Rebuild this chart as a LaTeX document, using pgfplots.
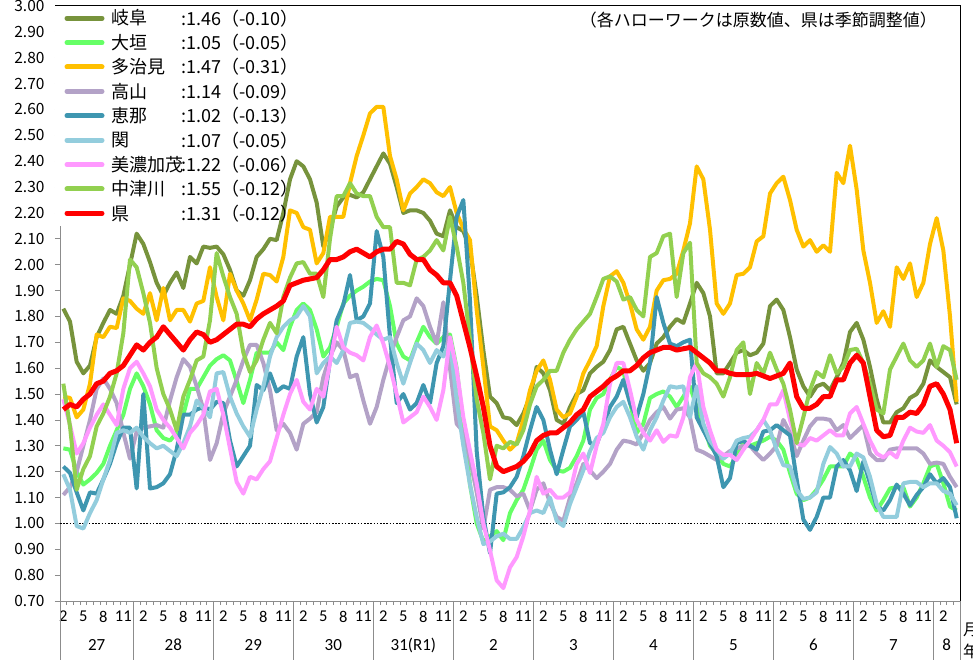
\documentclass[border=0pt]{standalone}
\usepackage{fontspec}
\setmainfont{Noto Sans CJK JP}
\newfontfamily\carlito{Carlito}
\usepackage{pgfplots}
\usepackage{pgfplotstable}
\pgfplotsset{compat=1.18}
\definecolor{cG}{RGB}{119,147,60}
\definecolor{cO}{RGB}{102,255,102}
\definecolor{cT}{RGB}{255,192,0}
\definecolor{cK}{RGB}{179,162,199}
\definecolor{cE}{RGB}{62,150,176}
\definecolor{cS}{RGB}{147,205,221}
\definecolor{cM}{RGB}{255,153,255}
\definecolor{cN}{RGB}{146,208,80}
\definecolor{cR}{RGB}{255,0,0}
\pgfplotstableread{
i G O T K E S M N R
0 1.83 1.29 1.49 1.11 1.22 1.19 1.48 1.54 1.44
1 1.78 1.285 1.485 1.14 1.195 1.13 1.38 1.375 1.46
2 1.625 1.20 1.41 1.20 1.12 0.99 1.27 1.13 1.45
3 1.58 1.15 1.44 1.30 1.05 0.98 1.31 1.21 1.48
4 1.61 1.17 1.54 1.40 1.12 1.04 1.37 1.26 1.50
5 1.72 1.195 1.73 1.52 1.115 1.09 1.42 1.375 1.54
6 1.775 1.23 1.72 1.56 1.17 1.17 1.46 1.425 1.55
7 1.825 1.30 1.76 1.52 1.23 1.245 1.42 1.49 1.58
8 1.81 1.36 1.755 1.465 1.31 1.35 1.38 1.58 1.59
9 1.88 1.42 1.87 1.35 1.37 1.36 1.52 1.735 1.61
10 2.00 1.52 1.86 1.25 1.37 1.35 1.60 2.02 1.65
11 2.12 1.58 1.83 1.355 1.135 1.37 1.625 1.99 1.69
12 2.08 1.53 1.81 1.37 1.50 1.335 1.58 1.89 1.67
13 2.01 1.46 1.89 1.375 1.135 1.31 1.53 1.775 1.70
14 1.93 1.36 1.785 1.38 1.14 1.29 1.44 1.60 1.72
15 1.88 1.33 1.91 1.37 1.155 1.30 1.40 1.50 1.76
16 1.93 1.32 1.785 1.475 1.19 1.28 1.37 1.44 1.73
17 1.97 1.35 1.825 1.565 1.285 1.26 1.33 1.36 1.70
18 1.91 1.42 1.825 1.635 1.42 1.31 1.29 1.49 1.67
19 2.03 1.52 1.78 1.605 1.42 1.375 1.35 1.555 1.71
20 2.005 1.52 1.85 1.53 1.44 1.475 1.38 1.63 1.74
21 2.07 1.565 1.86 1.44 1.45 1.445 1.42 1.645 1.73
22 2.065 1.61 1.99 1.245 1.44 1.41 1.51 1.785 1.70
23 2.07 1.635 1.875 1.31 1.47 1.58 1.52 2.045 1.71
24 2.04 1.65 1.785 1.425 1.465 1.585 1.42 1.955 1.73
25 1.98 1.63 1.965 1.49 1.32 1.49 1.29 1.875 1.75
26 1.90 1.55 1.90 1.555 1.22 1.425 1.16 1.81 1.77
27 1.88 1.465 1.85 1.63 1.26 1.375 1.115 1.66 1.77
28 1.94 1.555 1.785 1.69 1.30 1.335 1.18 1.585 1.76
29 2.03 1.66 1.865 1.69 1.535 1.44 1.17 1.63 1.79
30 2.06 1.66 1.965 1.62 1.515 1.53 1.21 1.71 1.81
31 2.10 1.66 1.96 1.515 1.58 1.645 1.24 1.775 1.825
32 2.095 1.70 1.935 1.36 1.51 1.72 1.33 1.735 1.84
33 2.20 1.67 2.03 1.385 1.53 1.76 1.42 1.875 1.86
34 2.33 1.76 2.21 1.35 1.52 1.785 1.50 1.95 1.92
35 2.40 1.825 2.20 1.285 1.645 1.80 1.555 2.005 1.93
36 2.38 1.85 2.145 1.385 1.72 1.84 1.47 2.01 1.94
37 2.33 1.825 2.135 1.405 1.50 1.80 1.44 1.965 1.945
38 2.24 1.75 2.005 1.43 1.39 1.58 1.52 1.965 1.95
39 2.07 1.645 2.045 1.565 1.45 1.62 1.49 1.875 1.98
40 2.135 1.68 2.185 1.645 1.63 1.645 1.62 2.10 2.02
41 2.225 1.76 2.185 1.70 1.785 1.62 1.76 2.265 2.02
42 2.26 1.85 2.185 1.67 1.845 1.67 1.68 2.265 2.03
43 2.27 1.88 2.315 1.565 1.96 1.775 1.66 2.315 2.05
44 2.26 1.90 2.42 1.575 1.785 1.78 1.65 2.275 2.06
45 2.28 1.915 2.50 1.475 1.80 1.775 1.63 2.265 2.045
46 2.33 1.935 2.585 1.385 1.85 1.755 1.72 2.265 2.03
47 2.38 1.945 2.61 1.45 2.13 1.73 1.765 2.185 2.05
48 2.43 1.94 2.61 1.555 2.03 1.71 1.695 2.145 2.06
49 2.39 1.84 2.42 1.645 1.72 1.72 1.605 2.145 2.06
50 2.30 1.695 2.33 1.72 1.465 1.62 1.50 1.93 2.09
51 2.20 1.645 2.21 1.785 1.50 1.54 1.39 1.93 2.08
52 2.21 1.63 2.275 1.80 1.44 1.62 1.41 1.92 2.04
53 2.21 1.70 2.30 1.87 1.465 1.695 1.43 2.02 2.02
54 2.20 1.76 2.33 1.84 1.535 1.67 1.49 2.03 2.02
55 2.17 1.72 2.315 1.76 1.465 1.62 1.45 2.055 1.98
56 2.12 1.695 2.28 1.695 1.62 1.67 1.40 2.095 1.96
57 2.11 1.72 2.265 1.855 1.685 1.645 1.515 2.055 1.93
58 2.21 1.73 2.30 1.60 1.94 1.70 1.72 2.185 1.93
59 2.145 1.60 2.20 1.385 2.185 1.475 1.595 2.07 1.88
60 2.13 1.38 2.14 1.355 2.25 1.30 1.41 1.93 1.78
61 2.06 1.15 2.095 1.25 1.86 1.15 1.28 1.71 1.68
62 1.88 1.00 1.825 1.12 1.28 1.025 1.155 1.48 1.57
63 1.67 0.93 1.605 0.98 1.025 0.92 1.00 1.35 1.45
64 1.49 0.95 1.375 1.13 0.885 0.93 0.895 1.17 1.30
65 1.465 0.97 1.36 1.14 1.115 0.95 0.78 1.30 1.22
66 1.41 0.935 1.32 1.14 1.12 0.96 0.75 1.29 1.20
67 1.405 1.04 1.285 1.13 1.14 0.94 0.83 1.315 1.21
68 1.38 1.09 1.31 1.105 1.18 0.94 0.87 1.305 1.22
69 1.425 1.13 1.40 1.115 1.26 0.985 0.95 1.36 1.24
70 1.49 1.205 1.515 1.05 1.36 1.04 1.05 1.46 1.27
71 1.605 1.285 1.59 1.13 1.45 1.05 1.18 1.53 1.32
72 1.58 1.32 1.63 1.155 1.40 1.04 1.115 1.555 1.34
73 1.515 1.245 1.555 1.08 1.285 1.10 1.13 1.59 1.35
74 1.40 1.205 1.44 1.025 1.19 1.01 1.10 1.59 1.35
75 1.385 1.20 1.41 1.01 1.285 0.99 1.10 1.66 1.37
76 1.45 1.215 1.425 1.10 1.375 1.075 1.12 1.71 1.39
77 1.50 1.26 1.49 1.155 1.40 1.14 1.23 1.75 1.42
78 1.515 1.32 1.58 1.23 1.43 1.205 1.27 1.78 1.44
79 1.58 1.44 1.63 1.205 1.31 1.28 1.195 1.81 1.49
80 1.605 1.485 1.685 1.175 1.305 1.33 1.30 1.875 1.51
81 1.625 1.50 1.84 1.20 1.375 1.35 1.385 1.945 1.53
82 1.67 1.555 1.955 1.23 1.45 1.41 1.54 1.955 1.555
83 1.75 1.605 1.975 1.285 1.49 1.45 1.62 1.935 1.57
84 1.76 1.59 1.93 1.32 1.555 1.47 1.62 1.865 1.59
85 1.695 1.47 1.85 1.315 1.465 1.41 1.515 1.875 1.59
86 1.63 1.35 1.75 1.305 1.41 1.335 1.40 1.825 1.61
87 1.59 1.385 1.71 1.35 1.50 1.285 1.35 1.80 1.64
88 1.62 1.485 1.76 1.40 1.62 1.36 1.32 2.03 1.66
89 1.695 1.50 1.90 1.43 1.875 1.41 1.36 2.045 1.67
90 1.72 1.51 1.94 1.45 1.775 1.475 1.315 2.11 1.68
91 1.76 1.49 1.945 1.405 1.695 1.53 1.34 2.12 1.68
92 1.79 1.45 1.965 1.44 1.685 1.525 1.335 1.875 1.67
93 1.775 1.49 2.055 1.445 1.70 1.53 1.41 2.045 1.675
94 1.85 1.53 2.16 1.41 1.71 1.41 1.565 2.085 1.68
95 1.93 1.45 2.38 1.285 1.41 1.53 1.62 1.62 1.66
96 1.89 1.38 2.33 1.275 1.36 1.385 1.45 1.58 1.64
97 1.80 1.30 2.135 1.26 1.31 1.32 1.36 1.565 1.62
98 1.58 1.27 1.85 1.245 1.26 1.285 1.285 1.54 1.59
99 1.58 1.23 1.81 1.26 1.14 1.25 1.265 1.49 1.59
100 1.62 1.22 1.85 1.28 1.175 1.27 1.265 1.565 1.58
101 1.66 1.26 1.96 1.29 1.31 1.32 1.245 1.67 1.575
102 1.67 1.31 1.965 1.30 1.32 1.33 1.285 1.70 1.575
103 1.65 1.30 1.99 1.30 1.30 1.335 1.32 1.50 1.575
104 1.66 1.31 2.09 1.27 1.285 1.36 1.36 1.62 1.58
105 1.695 1.32 2.11 1.245 1.355 1.40 1.40 1.58 1.57
106 1.84 1.335 2.275 1.27 1.36 1.36 1.46 1.66 1.56
107 1.865 1.32 2.315 1.30 1.38 1.285 1.46 1.595 1.57
108 1.825 1.285 2.34 1.40 1.36 1.225 1.515 1.54 1.58
109 1.72 1.195 2.25 1.35 1.34 1.22 1.40 1.44 1.62
110 1.595 1.115 2.135 1.26 1.17 1.13 1.31 1.31 1.49
111 1.53 1.09 2.07 1.32 1.015 1.095 1.30 1.41 1.445
112 1.49 1.10 2.095 1.375 0.975 1.10 1.33 1.515 1.445
113 1.53 1.13 2.05 1.405 1.025 1.12 1.32 1.585 1.46
114 1.54 1.17 2.075 1.405 1.10 1.23 1.34 1.565 1.49
115 1.515 1.22 2.05 1.40 1.10 1.295 1.36 1.65 1.49
116 1.565 1.22 2.355 1.36 1.22 1.27 1.34 1.58 1.555
117 1.62 1.22 2.315 1.38 1.245 1.22 1.34 1.605 1.555
118 1.74 1.27 2.46 1.33 1.205 1.22 1.425 1.67 1.62
119 1.775 1.25 2.29 1.355 1.125 1.27 1.45 1.675 1.65
120 1.71 1.18 2.055 1.38 1.24 1.255 1.385 1.62 1.62
121 1.605 1.10 1.93 1.27 1.155 1.18 1.32 1.54 1.49
122 1.48 1.05 1.775 1.245 1.065 1.075 1.27 1.44 1.36
123 1.39 1.09 1.82 1.245 1.05 1.025 1.255 1.425 1.335
124 1.39 1.135 1.76 1.285 1.09 1.025 1.275 1.595 1.34
125 1.43 1.14 1.99 1.29 1.15 1.025 1.255 1.645 1.41
126 1.445 1.14 1.945 1.29 1.115 1.155 1.32 1.695 1.41
127 1.485 1.065 2.005 1.29 1.07 1.16 1.37 1.63 1.43
128 1.50 1.10 1.875 1.29 1.11 1.16 1.355 1.605 1.425
129 1.54 1.155 1.93 1.27 1.14 1.14 1.35 1.63 1.46
130 1.63 1.22 2.08 1.23 1.19 1.155 1.38 1.695 1.53
131 1.605 1.23 2.18 1.235 1.155 1.155 1.32 1.605 1.54
132 1.585 1.155 2.055 1.23 1.175 1.125 1.30 1.685 1.50
133 1.565 1.065 1.80 1.18 1.14 1.115 1.275 1.67 1.44
134 1.46 1.05 1.47 1.14 1.02 1.07 1.22 1.555 1.31
}\datatable
\newcommand{\lgname}[1]{\makebox[75pt][l]{#1}}
\begin{document}
\begin{tikzpicture}[x=1pt,y=1pt]
\useasboundingbox (0,0) rectangle (973,660);
\begin{axis}[
  at={(60pt,59pt)}, anchor=south west,
  scale only axis, width=900pt, height=595pt,
  xmin=-0.5, xmax=134.5, ymin=0.7, ymax=3.0,
  axis x line*=bottom, axis y line*=left,
  axis line style={-, draw=gray!90, line width=0.9pt},
  clip=false,
  tick align=outside,
  major tick length=5pt, minor tick length=4pt,
  ytick={0.7,0.8,0.9,1.0,1.1,1.2,1.3,1.4,1.5,1.6,1.7,1.8,1.9,2.0,2.1,2.2,2.3,2.4,2.5,2.6,2.7,2.8,2.9,3.0},
  ytick style={draw=gray!90, line width=0.8pt},
  yticklabel style={font=\fontsize{15.5}{16}\selectfont, xshift=-7pt},
  /pgf/number format/.cd, fixed, fixed zerofill, precision=2, assume math mode=true,
  /pgfplots/.cd,
  xtick={0,3,...,132},
  xticklabels={2,5,8,11,2,5,8,11,2,5,8,11,2,5,8,11,2,5,8,11,2,5,8,11,2,5,8,11,2,5,8,11,2,5,8,11,2,5,8,11,2,5,8,11,2},
  xticklabel style={font=\carlito\fontsize{16.5}{17}\selectfont, yshift=-1.5pt},
  minor xtick={-0.5,0.5,...,134.5},
  every major x tick/.append style={draw=none},
  every minor x tick/.append style={draw=gray!90, line width=0.6pt},
  legend style={at={(axis description cs:0,1)}, anchor=north west, xshift=-5pt,
    fill=white, draw=none, inner sep=0pt, outer sep=0pt, column sep=4pt, row sep=0pt,
    font=\fontsize{18}{20}\selectfont,
    nodes={inner sep=0pt, text height=19pt, text depth=5.4pt},
    cells={anchor=west}},
  legend image code/.code={\path (-7pt,0pt) (40pt,0pt); \draw[#1, line cap=round, line width=5pt] (2.5pt,0pt) -- (37.5pt,0pt);},
  every axis plot/.append style={line join=round},
]
\addplot[forget plot, black, line width=1.6pt, dash pattern=on 1.6pt off 1.6pt] coordinates {(-0.5,1) (134.5,1)};
\addplot[cG, line width=4pt] table[x=i,y=G]{\datatable};
\addlegendentry{\lgname{岐阜}}
\addplot[cO, line width=4pt] table[x=i,y=O]{\datatable};
\addlegendentry{\lgname{大垣}}
\addplot[cT, line width=4pt] table[x=i,y=T]{\datatable};
\addlegendentry{\lgname{多治見}}
\addplot[cK, line width=4pt] table[x=i,y=K]{\datatable};
\addlegendentry{\lgname{高山}}
\addplot[cE, line width=4pt] table[x=i,y=E]{\datatable};
\addlegendentry{\lgname{恵那}}
\addplot[cS, line width=4pt] table[x=i,y=S]{\datatable};
\addlegendentry{\lgname{関}}
\addplot[cM, line width=4pt] table[x=i,y=M]{\datatable};
\addlegendentry{\lgname{美濃加茂}}
\addplot[cN, line width=4pt] table[x=i,y=N]{\datatable};
\addlegendentry{\lgname{中津川}}
\addplot[cR, line width=5pt] table[x=i,y=R]{\datatable};
\addlegendentry{\lgname{県}}
\pgfplotsinvokeforeach{-0.5,10.5,22.5,34.5,46.5,58.5,70.5,82.5,94.5,106.5,118.5,130.5,134.5}{
  \draw[gray!90, line width=0.9pt] (axis cs:#1,0.7) -- ++(0pt,-62pt);
}
\node[font=\carlito\fontsize{17}{17}\selectfont] at ([yshift=-44pt]axis cs:5,0.7) {27};
\node[font=\carlito\fontsize{17}{17}\selectfont] at ([yshift=-44pt]axis cs:16.5,0.7) {28};
\node[font=\carlito\fontsize{17}{17}\selectfont] at ([yshift=-44pt]axis cs:28.5,0.7) {29};
\node[font=\carlito\fontsize{17}{17}\selectfont] at ([yshift=-44pt]axis cs:40.5,0.7) {30};
\node[font=\carlito\fontsize{17}{17}\selectfont] at ([yshift=-44pt]axis cs:52.5,0.7) {31(R1)};
\node[font=\carlito\fontsize{17}{17}\selectfont] at ([yshift=-44pt]axis cs:64.5,0.7) {2};
\node[font=\carlito\fontsize{17}{17}\selectfont] at ([yshift=-44pt]axis cs:76.5,0.7) {3};
\node[font=\carlito\fontsize{17}{17}\selectfont] at ([yshift=-44pt]axis cs:88.5,0.7) {4};
\node[font=\carlito\fontsize{17}{17}\selectfont] at ([yshift=-44pt]axis cs:100.5,0.7) {5};
\node[font=\carlito\fontsize{17}{17}\selectfont] at ([yshift=-44pt]axis cs:112.5,0.7) {6};
\node[font=\carlito\fontsize{17}{17}\selectfont] at ([yshift=-44pt]axis cs:124.5,0.7) {7};
\node[font=\carlito\fontsize{17}{17}\selectfont] at ([yshift=-44pt]axis cs:132.5,0.7) {8};
\end{axis}
% frame lines (top and right)
\draw[black, line width=1pt] (55,654) -- (960,654) -- (960,59);
% legend values
\begin{scope}[every node/.style={anchor=base west, inner sep=0pt, font=\fontsize{18}{20}\selectfont}]
\node at (181,634.9) {:1.46（-0.10）};
\node at (181,610.5) {:1.05（-0.05）};
\node at (181,586.1) {:1.47（-0.31）};
\node at (181,561.7) {:1.14（-0.09）};
\node at (181,537.3) {:1.02（-0.13）};
\node at (181,512.9) {:1.07（-0.05）};
\node at (181,488.5) {:1.22（-0.06）};
\node at (181,464.1) {:1.55（-0.12）};
\node at (181,439.7) {:1.31（-0.12）};
\end{scope}
\node[anchor=east, inner sep=0pt, font=\fontsize{17}{18}\selectfont] at (937,640) {（各ハローワークは原数値、県は季節調整値）};
\node[anchor=west, inner sep=0pt, font=\fontsize{16}{17}\selectfont] at (963,30) {月};
\node[anchor=west, inner sep=0pt, font=\fontsize{16}{17}\selectfont] at (963,9) {年};
\end{tikzpicture}
\end{document}
